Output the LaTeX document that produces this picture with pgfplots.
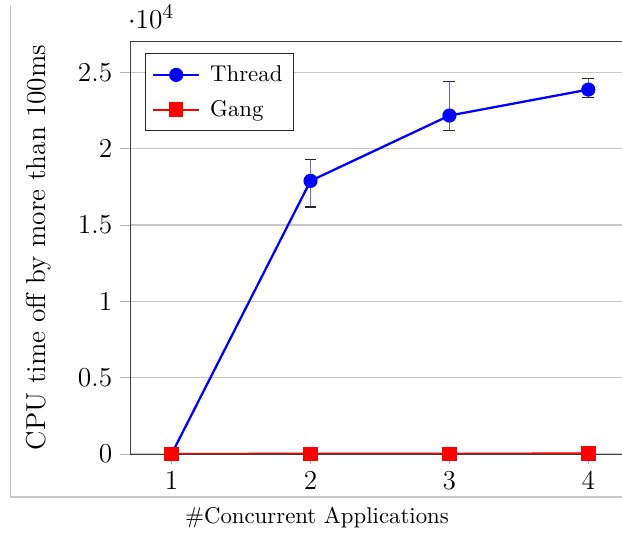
\documentclass[border=0pt]{standalone}
\usepackage{pgfplots}
\pgfplotsset{compat=1.18}
\pgfplotsset{longline/.style={legend image code/.code={\draw[mark repeat=2, mark phase=2, ##1] plot coordinates {(0pt,0pt) (10pt,0pt) (20pt,0pt)};}}}
\begin{document}
\begin{tikzpicture}
% faint frame of the surrounding figure
\draw[black!22, line width=0.5pt] (-52.4pt,196.9pt) -- (-52.4pt,-18.9pt) -- (240pt,-18.9pt);
\begin{axis}[
    scale only axis,
    width=219.3pt, height=181.1pt,
    xmin=0.7, xmax=4.3,
    ymin=0, ymax=27050,
    xtick={1,2,3,4},
    ytick={0,5000,10000,15000,20000,25000},
    ymajorgrids,
    grid style={black!22, line width=0.5pt},
    tick align=outside,
    tick pos=left,
    major tick style={black!30},
    axis line style={black!75},
    xticklabel style={font=\fontsize{12}{14}\selectfont},
    yticklabel style={font=\fontsize{12}{14}\selectfont},
    every y tick scale label/.append style={font=\fontsize{13}{15}\selectfont, xshift=-4pt},
    ylabel={CPU time off by more than 100ms},
    ylabel style={font=\fontsize{12}{14}\selectfont, at={(ticklabel cs:0.5,5pt)}},
    xlabel={\#Concurrent Applications},
    xlabel style={at={(ticklabel cs:0.374,1pt)}, anchor=north},
    legend pos=north west,
    legend cell align=left,
    legend style={draw=black!85, font=\normalsize, row sep=2.8pt, inner xsep=3pt, inner ysep=3pt,
        /tikz/every odd column/.append style={column sep=2.4pt}},
]
\addplot[blue, line width=1pt, mark=*, mark size=2.6pt, longline,
    error bars/.cd, y dir=both, y explicit,
    error bar style={blue!60, line width=0.6pt},
    error mark options={black!85, rotate=90, mark size=2.6pt, line width=0.6pt}]
    coordinates {
    (1,0)
    (2,17890) += (0,1420) -= (0,1710)
    (3,22170) += (0,2240) -= (0,970)
    (4,23870) += (0,720) -= (0,510)
    };
\addlegendentry{Thread}
\addplot[red, line width=1pt, mark=square*, mark size=2.7pt, longline]
    coordinates {(1,0) (2,10) (3,10) (4,30)};
\addlegendentry{Gang}
\end{axis}
\pgfresetboundingbox
\useasboundingbox (-57pt,-35.1pt) rectangle (215.8pt,199.1pt);
\end{tikzpicture}
\end{document}
